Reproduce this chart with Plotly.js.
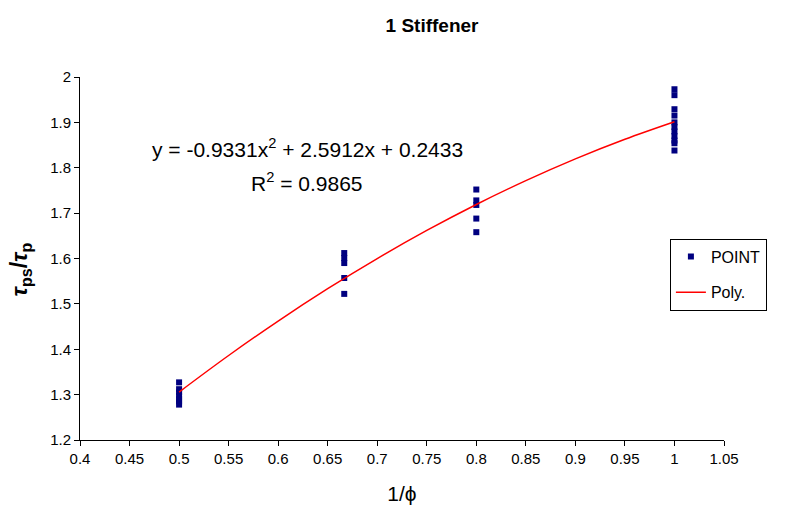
<!DOCTYPE html>
<html>
<head>
<meta charset="utf-8">
<script src="https://cdn.plot.ly/plotly-3.0.1.min.js"></script>
<style>html,body{margin:0;padding:0;background:#fff;}#chart{width:800px;height:508px;}</style>
</head>
<body>
<div id="chart"></div>
<script>
// Measured points (1/phi vs tau_ps/tau_p)
const pointX = [
  0.5, 0.5, 0.5, 0.5, 0.5, 0.5, 0.5,
  0.6667, 0.6667, 0.6667, 0.6667, 0.6667,
  0.8, 0.8, 0.8, 0.8, 0.8,
  1, 1, 1, 1, 1, 1, 1, 1, 1, 1, 1
];
const pointY = [
  1.327, 1.312, 1.305, 1.298, 1.290, 1.285, 1.278,
  1.612, 1.601, 1.590, 1.557, 1.522,
  1.752, 1.728, 1.718, 1.688, 1.658,
  1.973, 1.960, 1.929, 1.915, 1.900, 1.890, 1.880, 1.870, 1.860, 1.854, 1.838
];
// Polynomial trendline
const polyX = [0.5, 0.55, 0.6, 0.65, 0.7, 0.75, 0.8, 0.85, 0.9, 0.95, 1.0];
const polyY = [1.3056, 1.3862, 1.4621, 1.5334, 1.5999, 1.6618, 1.7191, 1.7716, 1.8196, 1.8628, 1.9014];

const chartTitle = '1 Stiffener';
const xTitle = '1/ϕ';
const yTitle = '<b><i>τ</i><sub>ps</sub>/<i>τ</i><sub>p</sub></b>';
const eqText = 'y = -0.9331x<sup>2</sup> + 2.5912x + 0.2433';
const r2Text = 'R<sup>2</sup> = 0.9865';

const FONT = 'Liberation Sans, Arial, sans-serif';

const traces = [
  {
    x: pointX, y: pointY, type: 'scatter', mode: 'markers', name: 'POINT',
    legendgroup: 'a',
    marker: {symbol: 'square', size: 6, color: '#000080'}
  },
  {
    x: polyX, y: polyY, type: 'scatter', mode: 'lines', name: 'Poly.',
    legendgroup: 'b',
    line: {color: '#ff0000', width: 1.5, shape: 'spline'}
  }
];

const layout = {
  width: 800, height: 508,
  paper_bgcolor: '#fff', plot_bgcolor: '#fff',
  font: {family: FONT, color: '#000', size: 15},
  margin: {l: 80, r: 76, t: 77, b: 68},
  title: {text: '<b>' + chartTitle + '</b>', font: {size: 19, family: FONT}, x: 0.54, xanchor: 'center', y: 0.95, yanchor: 'middle'},
  showlegend: true,
  legend: {
    x: 0.916, y: 0.555, xanchor: 'left', yanchor: 'top',
    bordercolor: '#000', borderwidth: 1, bgcolor: '#fff',
    font: {size: 16, family: FONT},
    traceorder: 'grouped', tracegroupgap: 12
  },
  xaxis: {
    range: [0.4, 1.05], dtick: 0.05, tick0: 0.4,
    showgrid: false, zeroline: false,
    showline: true, linecolor: '#000', linewidth: 1,
    ticks: 'outside', ticklen: 5, tickcolor: '#000',
    tickfont: {size: 15},
    title: {text: xTitle, font: {size: 21}, standoff: 20}
  },
  yaxis: {
    range: [1.2, 2], dtick: 0.1, tick0: 1.2,
    showgrid: false, zeroline: false,
    showline: true, linecolor: '#000', linewidth: 1,
    ticks: 'outside', ticklen: 5, tickcolor: '#000',
    tickfont: {size: 15}
  },
  annotations: [
    {text: yTitle, xref: 'paper', yref: 'paper', x: -0.093, y: 0.47, xanchor: 'center', yanchor: 'middle', textangle: -90, showarrow: false, font: {size: 23}},
    {text: eqText, xref: 'paper', yref: 'paper', x: 0.353, y: 0.805, xanchor: 'center', yanchor: 'middle', showarrow: false, font: {size: 21}},
    {text: r2Text, xref: 'paper', yref: 'paper', x: 0.353, y: 0.71, xanchor: 'center', yanchor: 'middle', showarrow: false, font: {size: 21}}
  ]
};

Plotly.newPlot('chart', traces, layout, {displayModeBar: false, staticPlot: true});
</script>
</body>
</html>
